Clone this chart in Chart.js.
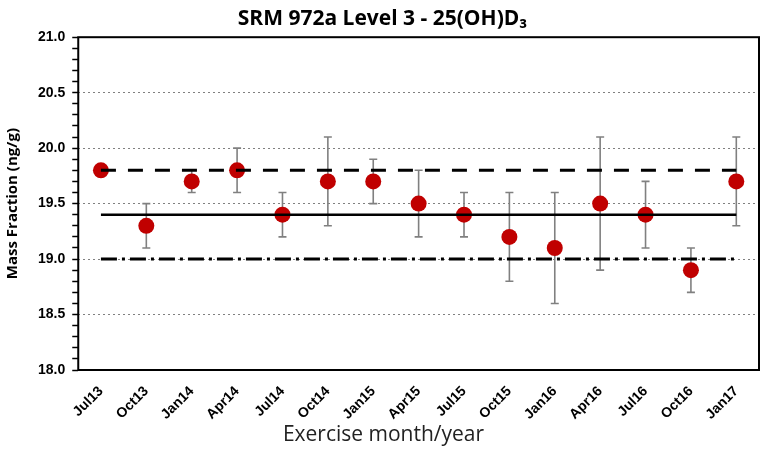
<!DOCTYPE html>
<html>
<head>
<meta charset="utf-8">
<script src="https://cdn.jsdelivr.net/npm/chart.js@4/dist/chart.umd.min.js"></script>
<style>
  html, body { margin: 0; padding: 0; background: #fff; }
  #wrap { width: 767px; height: 466px; }
</style>
</head>
<body>
<div id="wrap"><canvas id="chart" width="767" height="466"></canvas></div>
<script>
// exercise months (x axis)
const months = ['Jul13', 'Oct13', 'Jan14', 'Apr14', 'Jul14', 'Oct14', 'Jan15', 'Apr15',
  'Jul15', 'Oct15', 'Jan16', 'Apr16', 'Jul16', 'Oct16', 'Jan17'];
// measured mass fraction (ng/g)
const massFraction = [19.8, 19.3, 19.7, 19.8, 19.4, 19.7, 19.7, 19.5, 19.4, 19.2, 19.1, 19.5, 19.4, 18.9, 19.7];
// error bar ends
const errLow = [19.8, 19.1, 19.6, 19.6, 19.2, 19.3, 19.5, 19.2, 19.2, 18.8, 18.6, 18.9, 19.1, 18.7, 19.3];
const errHigh = [19.8, 19.5, 19.8, 20.0, 19.6, 20.1, 19.9, 19.8, 19.6, 19.6, 19.6, 20.1, 19.7, 19.1, 20.1];
// reference lines
const assignedValue = 19.4;
const upperLimit = 19.8;
const lowerLimit = 19.0;
const yTicks = [18.0, 18.5, 19.0, 19.5, 20.0, 20.5, 21.0];
const xTitle = 'Exercise month/year';

const first = months[0], last = months[months.length - 1];
const isMajor = v => yTicks.some(t => Math.abs(t - v) < 1e-6);

// grey error bars, drawn just before the red points
const errorBars = {
  id: 'errorBars',
  beforeDatasetDraw(chart, args) {
    if (args.index !== 3) return;
    const ctx = chart.ctx;
    const meta = chart.getDatasetMeta(3);
    const y = chart.scales.y;
    ctx.save();
    ctx.strokeStyle = '#808080';
    ctx.lineWidth = 1.6;
    meta.data.forEach((pt, i) => {
      if (errLow[i] === errHigh[i]) return;
      const yl = y.getPixelForValue(errLow[i]);
      const yh = y.getPixelForValue(errHigh[i]);
      ctx.beginPath();
      ctx.moveTo(pt.x, yl); ctx.lineTo(pt.x, yh);
      ctx.moveTo(pt.x - 4, yl); ctx.lineTo(pt.x + 4, yl);
      ctx.moveTo(pt.x - 4, yh); ctx.lineTo(pt.x + 4, yh);
      ctx.stroke();
    });
    ctx.restore();
  }
};

// black box round the plot area + x title centred on the whole canvas
const frame = {
  id: 'frame',
  afterDraw(chart) {
    const a = chart.chartArea, ctx = chart.ctx;
    ctx.save();
    ctx.strokeStyle = '#000';
    ctx.lineWidth = 2;
    ctx.strokeRect(a.left, a.top, a.right - a.left, a.bottom - a.top);
    ctx.fillStyle = '#222';
    ctx.font = '21px "Open Sans"';
    ctx.textAlign = 'center';
    ctx.textBaseline = 'middle';
    ctx.fillText(xTitle, chart.width / 2, 435);
    ctx.restore();
  }
};

new Chart(document.getElementById('chart'), {
  type: 'line',
  data: {
    labels: months,
    datasets: [
      {
        label: 'Assigned',
        data: [{ x: first, y: assignedValue }, { x: last, y: assignedValue }],
        borderColor: '#000', borderWidth: 2.5, pointRadius: 0
      },
      {
        label: 'Upper',
        data: [{ x: first, y: upperLimit }, { x: last, y: upperLimit }],
        borderColor: '#000', borderWidth: 3, borderDash: [15, 12], pointRadius: 0
      },
      {
        label: 'Lower',
        data: [{ x: first, y: lowerLimit }, { x: last, y: lowerLimit }],
        borderColor: '#000', borderWidth: 3, borderDash: [16, 5, 3, 5], pointRadius: 0
      },
      {
        label: 'Mass Fraction',
        data: massFraction,
        showLine: false,
        pointRadius: 8,
        pointBackgroundColor: '#c00000',
        pointBorderColor: '#c00000',
        pointBorderWidth: 0
      }
    ]
  },
  options: {
    responsive: false,
    animation: false,
    layout: { padding: { left: 4, right: 6, top: 2, bottom: 19 } },
    plugins: {
      legend: { display: false },
      tooltip: { enabled: false },
      title: {
        display: true,
        text: 'SRM 972a Level 3 - 25(OH)D\u2083',
        color: '#000',
        font: { family: 'Open Sans', size: 21, weight: 'bold' },
        padding: { top: 4, bottom: 6 }
      }
    },
    scales: {
      x: {
        offset: true,
        grid: { display: false },
        border: { display: false },
        afterFit: scale => { scale.height = 77; },
        ticks: {
          color: '#000',
          minRotation: 45,
          maxRotation: 45,
          autoSkip: false,
          padding: 5,
          font: { family: 'Liberation Sans', size: 14, weight: 'bold' }
        },
        title: { display: false }
      },
      y: {
        min: 18,
        max: 21,
        border: { display: false, dash: [2, 3] },
        grid: {
          color: ctx => (isMajor(ctx.tick.value) && ctx.tick.value > 18 && ctx.tick.value < 21) ? '#808080' : 'rgba(0,0,0,0)',
          lineWidth: 1,
          tickColor: '#000',
          tickLength: 6,
          tickWidth: 1.5
        },
        ticks: {
          stepSize: 0.1,
          autoSkip: false,
          color: '#000',
          padding: 7,
          font: { family: 'Liberation Sans', size: 14, weight: 'bold' },
          callback: v => isMajor(v) ? v.toFixed(1) : ''
        },
        title: {
          display: true,
          text: 'Mass Fraction (ng/g)',
          color: '#000',
          font: { family: 'Open Sans', size: 15, weight: 'bold' },
          padding: { top: 0, bottom: 9 }
        }
      }
    }
  },
  plugins: [errorBars, frame]
});
</script>
</body>
</html>
